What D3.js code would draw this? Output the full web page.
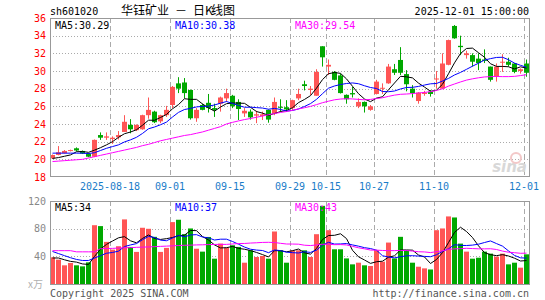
<!DOCTYPE html>
<html>
<head>
<meta charset="utf-8">
<script src="https://cdn.jsdelivr.net/npm/d3@7"></script>
<style>
  body { margin: 0; background: #fff; }
  svg { display: block; }
  text { font-family: "DejaVu Sans Mono", monospace; font-size: 10px; }
</style>
</head>
<body>
<svg id="chart" width="545" height="300"></svg>
<script>
// trading days, 2025-08-04 .. 2025-12-01
var dates = ["08-04","08-05","08-06","08-07","08-08","08-11","08-12","08-13","08-14","08-15",
  "08-18","08-19","08-20","08-21","08-22","08-25","08-26","08-27","08-28","08-29",
  "09-01","09-02","09-03","09-04","09-05","09-08","09-09","09-10","09-11","09-12",
  "09-15","09-16","09-17","09-18","09-19","09-22","09-23","09-24","09-25","09-26",
  "09-29","09-30","10-09","10-10","10-13","10-14","10-15","10-16","10-17","10-20",
  "10-21","10-22","10-23","10-24","10-27","10-28","10-29","10-30","10-31","11-03",
  "11-04","11-05","11-06","11-07","11-10","11-11","11-12","11-13","11-14","11-17",
  "11-18","11-19","11-20","11-21","11-24","11-25","11-26","11-27","11-28","12-01"];

var opens = [20.11,20.5,20.7,20.95,21.25,20.95,20.6,20.3,22.75,22.45,
  22.3,22.5,23.1,23.9,23.3,23.4,25.0,25.4,24.3,25.0,
  26.15,28.6,28.7,27.85,24.65,26.15,26.4,25.8,26.3,26.9,
  27.2,26.5,25.2,25.4,24.95,24.9,25.6,25.2,25.95,25.9,
  25.8,26.9,28.5,27.85,27.2,32.8,30.5,29.9,29.5,27.3,
  27.5,26.0,26.5,25.6,27.4,28.0,28.6,30.2,31.25,29.65,
  28.0,26.6,27.4,27.65,29.05,28.0,30.7,35.1,32.85,31.8,
  31.8,31.4,31.3,30.5,29.35,31.0,31.05,30.85,30.0,30.85];
var highs = [20.55,21.5,21.05,21.1,21.35,21.0,20.7,22.25,23.05,23.05,
  22.6,23.2,25.0,24.55,23.95,25.05,27.0,25.5,25.05,26.05,
  28.3,29.3,29.2,27.9,25.8,26.3,27.4,26.3,27.1,28.0,
  27.3,26.8,25.8,25.65,25.5,25.4,25.65,27.0,26.8,26.7,
  26.75,28.0,28.9,28.3,30.2,32.8,31.3,30.0,29.7,27.35,
  28.2,26.9,26.55,26.15,29.0,28.6,30.8,30.8,32.7,30.1,
  28.4,27.6,27.75,27.85,30.0,32.0,33.55,35.2,34.0,32.3,
  32.0,32.0,32.45,30.5,30.85,31.9,31.5,30.9,30.3,31.3];
var lows = [20.05,20.45,20.65,20.9,20.9,20.6,20.25,20.25,22.2,22.2,
  21.75,22.25,23.1,22.95,23.2,23.35,24.6,24.1,24.1,24.8,
  25.8,27.5,26.9,24.5,24.25,25.55,25.3,24.8,25.4,26.5,
  25.8,24.45,24.8,24.5,24.1,24.45,24.15,25.0,25.4,25.4,
  25.6,26.7,27.8,27.3,27.2,30.5,29.55,28.95,27.45,26.3,
  27.0,25.8,25.3,25.5,27.35,27.4,28.55,29.55,29.55,27.7,
  27.0,26.3,27.2,27.1,28.0,27.95,30.65,33.65,31.8,31.4,
  30.5,30.1,30.9,28.8,28.8,29.9,30.5,29.75,29.7,29.35];
var closes = [20.49,20.8,20.95,21.05,21.0,20.65,20.3,22.2,22.45,22.6,
  22.45,22.75,24.25,23.4,23.9,25.0,25.6,24.2,25.0,25.6,
  28.2,28.0,27.5,24.65,25.6,25.6,25.8,25.6,27.0,27.5,
  26.0,25.7,25.5,24.75,25.1,25.1,24.5,26.5,25.85,25.65,
  26.7,27.4,28.3,28.0,29.9,31.55,30.7,29.0,27.5,26.8,
  27.35,26.5,26.0,26.0,28.8,28.1,30.5,29.8,29.8,28.5,
  27.5,27.55,27.55,27.4,29.15,30.85,33.5,33.7,32.7,32.0,
  31.05,30.9,31.15,29.0,30.5,31.05,30.7,29.9,30.2,29.8];
// volume, 10k shares
var volumes = [38.6,35.2,27,30.4,27,25.5,31.3,85,83.7,60.9,
  49.7,54.6,93.4,53.6,46.4,81.3,79.8,68.2,46.4,52.2,
  89.5,92.9,72,80.3,51,46.8,68,36.6,58.4,52.6,
  56,53.6,30.8,48.7,39,40.5,36.6,75.9,48.7,30.8,
  48.7,48.7,48.7,39,72,113,77.8,50.2,50.2,37,
  28.4,30.8,27,26,48.7,32.3,59.9,37,68.2,48.7,
  30.8,25,22.6,21,77.8,80.3,97.7,96.2,58.4,46.8,
  36.6,38,46.8,43.9,39.5,43.9,28.4,30.8,23.6,42.9];

// moving-average values before the window is full
var ma5Lead = [20.1,20.2,20.35,20.5];
var ma10Lead = [20.7,20.7,20.7,20.7,20.7,20.7,20.65,20.75,21.0];
var ma30Lead = [19.75,19.8,19.85,19.9,19.95,20.0,20.15,20.3,20.45,20.6,
  20.75,20.9,21.05,21.2,21.35,21.55,21.7,21.9,22.1,22.25,
  22.4,22.55,22.7,22.8,22.95,23.1,23.3,23.5,23.7];
var vma5Lead = [37.6,37.6,35,32.7];
var vma10Lead = [47,44,41,38,35.5,34,34,37.5,41];
var vma30Lead = [48.2,48.2,48.2,48.2,46.5,46.5,46.5,46.5,51,51.3,
  51.5,52,52.3,52.6,53,53.3,53.6,54,54.4,54.8,
  55.2,55.6,56,56.2,56.5,56.7,57,57.2,57.3];

var priceTicks = [18,20,22,24,26,28,30,32,34,36];
var volTicks = [40,80,120];
var tickDates = ["08-18","09-01","09-15","09-29","10-15","10-27","11-10","12-01"];
var tickLabels = ["2025-08-18","09-01","09-15","09-29","10-15","10-27","11-10","12-01"];
var maText = ["MA5:30.29","MA10:30.38","MA30:29.54"];
var vmaText = ["MA5:34","MA10:37","MA30:43"];

var upColor = "#ff5555", downColor = "#00a800";
var maColors = ["#000000", "#0000ff", "#ff00ff"];
var gridColor = "#aaaaaa", frameColor = "#999999";

var svg = d3.select("#chart");

var x = d3.scaleBand().domain(dates).range([50, 530]);
var yP = d3.scaleLinear().domain([18, 36]).range([177, 18]);
var yV = d3.scaleLinear().domain([0, 120]).range([284, 201]);

function movingAvg(vals, n, lead) {
  return vals.map(function(v, i) {
    return i < n - 1 ? lead[i] : d3.mean(vals.slice(i - n + 1, i + 1));
  });
}

// header
svg.append("text").attr("x", 50).attr("y", 14.5).attr("fill", "#000").text("sh601020");
svg.append("text").attr("x", 529).attr("y", 14.5).attr("text-anchor", "end").attr("fill", "#000")
  .text("2025-12-01 15:00:00");
var title = "华钰矿业 － 日K线图";
var tx = [], cx = 121;
for (var k = 0; k < title.length; k++) {
  tx.push(cx);
  cx += title.charCodeAt(k) < 128 ? 6 : 12;
}
svg.append("text").attr("y", 14.5).attr("x", tx.join(" "))
  .style("font-family", '"Noto Sans CJK SC", sans-serif').style("font-size", "12px")
  .attr("fill", "#000").text(title);

function panel(y, ticks, labelColor, top, bottom) {
  var g = svg.append("g");
  // horizontal dotted lines
  g.selectAll("line.h").data(ticks.filter(function(t) { return y(t) > top + 1 && y(t) < bottom - 1; }))
    .enter().append("line")
    .attr("x1", 50).attr("x2", 530)
    .attr("y1", function(d) { return Math.round(y(d)) + 0.5; })
    .attr("y2", function(d) { return Math.round(y(d)) + 0.5; })
    .attr("stroke", gridColor).attr("stroke-dasharray", "1,2");
  // vertical dashed lines
  g.selectAll("line.v").data(tickDates).enter().append("line")
    .attr("x1", function(d) { return Math.round(x(d)) + 0.5; })
    .attr("x2", function(d) { return Math.round(x(d)) + 0.5; })
    .attr("y1", top).attr("y2", bottom)
    .attr("stroke", gridColor).attr("stroke-dasharray", "5,3");
  g.selectAll("text").data(ticks).enter().append("text")
    .attr("x", 46).attr("y", function(d) { return y(d) + 3.5; })
    .attr("text-anchor", "end").attr("fill", labelColor)
    .text(function(d) { return d; });
  return g;
}

panel(yP, priceTicks, "#ff0000", 18, 177);
panel(yV, volTicks, "#888888", 201, 284);

// candles
var idx = d3.range(dates.length);
var candles = svg.append("g");
candles.selectAll("rect.wick").data(idx).enter().append("rect")
  .attr("x", function(i) { return x(dates[i]) + 2; })
  .attr("width", 1)
  .attr("y", function(i) { return yP(highs[i]); })
  .attr("height", function(i) { return Math.max(1, yP(lows[i]) - yP(highs[i])); })
  .attr("fill", function(i) { return closes[i] >= opens[i] ? upColor : downColor; });
candles.selectAll("rect.body").data(idx).enter().append("rect")
  .attr("x", function(i) { return x(dates[i]); })
  .attr("width", 5)
  .attr("y", function(i) { return yP(Math.max(opens[i], closes[i])); })
  .attr("height", function(i) { return Math.max(1, Math.abs(yP(opens[i]) - yP(closes[i]))); })
  .attr("fill", function(i) { return closes[i] >= opens[i] ? upColor : downColor; });

// volume bars
svg.append("g").selectAll("rect").data(idx).enter().append("rect")
  .attr("x", function(i) { return x(dates[i]); })
  .attr("width", 5)
  .attr("y", function(i) { return yV(volumes[i]); })
  .attr("height", function(i) { return yV(0) - yV(volumes[i]); })
  .attr("fill", function(i) { return closes[i] >= opens[i] ? upColor : downColor; });

// moving averages
function maLines(vals, leads, y) {
  var line = d3.line()
    .x(function(d, i) { return x(dates[i]) + 2.5; })
    .y(function(d) { return y(d); });
  [5, 10, 30].forEach(function(n, j) {
    svg.append("path")
      .attr("d", line(movingAvg(vals, n, leads[j])))
      .attr("fill", "none").attr("stroke", maColors[j]).attr("stroke-width", 1);
  });
}
maLines(closes, [ma5Lead, ma10Lead, ma30Lead], yP);
maLines(volumes, [vma5Lead, vma10Lead, vma30Lead], yV);

// frames
svg.append("rect").attr("x", 50.5).attr("y", 18.5).attr("width", 479).attr("height", 158)
  .attr("fill", "none").attr("stroke", frameColor);
svg.append("rect").attr("x", 50.5).attr("y", 201.5).attr("width", 479).attr("height", 83)
  .attr("fill", "none").attr("stroke", frameColor);

// legends
var legX = [55, 175, 295];
maText.forEach(function(t, j) {
  svg.append("text").attr("x", legX[j]).attr("y", 28.5).attr("fill", maColors[j]).text(t);
});
vmaText.forEach(function(t, j) {
  svg.append("text").attr("x", legX[j]).attr("y", 210.5).attr("fill", maColors[j]).text(t);
});

// date labels
svg.selectAll("text.date").data(tickDates).enter().append("text")
  .attr("x", function(d) { return x(d); }).attr("y", 189.5)
  .attr("text-anchor", "middle").attr("fill", "#1a7cc8")
  .text(function(d, i) { return tickLabels[i]; });

// watermark
svg.append("text").attr("x", 527).attr("y", 172).attr("text-anchor", "end")
  .style("font-family", "DejaVu Sans").style("font-size", "15px").style("font-weight", "bold")
  .style("font-style", "italic").attr("fill", "#d8d8d8").text("sina");
svg.append("circle").attr("cx", 516).attr("cy", 158).attr("r", 5)
  .attr("fill", "none").attr("stroke", "#f3c8c8").attr("stroke-width", 2);

// footer
svg.append("text").attr("x", 28).attr("y", 288).attr("fill", "#b0b0b0")
  .style("font-family", '"Noto Sans CJK SC", sans-serif').style("font-size", "10px").text("x万");
svg.append("text").attr("x", 50).attr("y", 297).attr("fill", "#555").text("Copyright 2025 SINA.COM");
svg.append("text").attr("x", 529).attr("y", 297).attr("text-anchor", "end").attr("fill", "#555")
  .text("http://finance.sina.com.cn");
</script>
</body>
</html>
